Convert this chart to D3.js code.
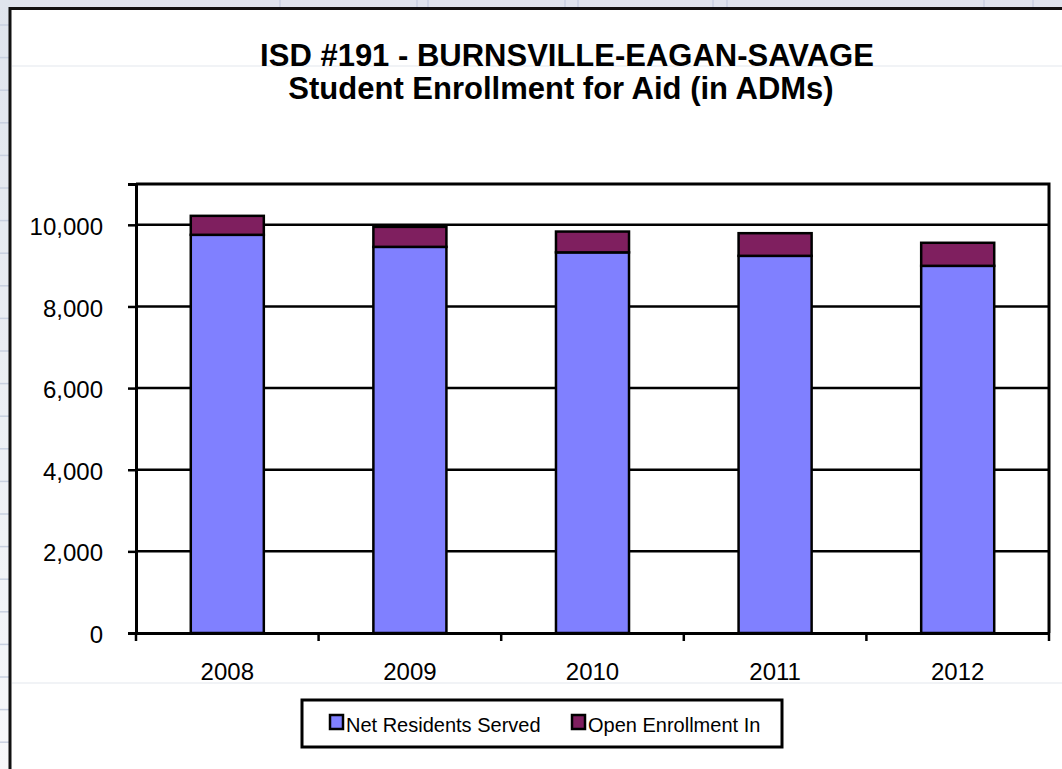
<!DOCTYPE html>
<html>
<head>
<meta charset="utf-8">
<script src="https://cdn.jsdelivr.net/npm/d3@7"></script>
<style>
	html, body { margin: 0; padding: 0; background: #ffffff; }
	svg { display: block; font-family: "Liberation Sans", Arial, sans-serif; }
</style>
</head>
<body>
<div id="chart"></div>
<script>
// values
const years = ["2008", "2009", "2010", "2011", "2012"];
const netResidents = [9755, 9460, 9325, 9240, 8995];
const openEnrollment = [465, 490, 510, 555, 565];
const yTicks = [0, 2000, 4000, 6000, 8000, 10000];
const yMax = 11000;
const seriesNames = ["Net Residents Served", "Open Enrollment In"];
const seriesColors = ["#8080ff", "#7f1f5f"];
const titleLines = ["ISD #191 - BURNSVILLE-EAGAN-SAVAGE", "Student Enrollment for Aid (in ADMs)"];

const width = 1062, height = 769;
const plot = { left: 136, top: 184, right: 1049, bottom: 633 };

const svg = d3.select("#chart").append("svg")
	.attr("width", width).attr("height", height);

// spreadsheet behind the chart
const grad = svg.append("defs").append("linearGradient")
	.attr("id", "sheet").attr("x1", 0).attr("y1", 0).attr("x2", 0).attr("y2", 1);
grad.append("stop").attr("offset", 0).attr("stop-color", "#dfe4ed");
grad.append("stop").attr("offset", 1).attr("stop-color", "#f7f8fa");
svg.append("rect").attr("width", width).attr("height", height).attr("fill", "url(#sheet)");

svg.append("g").selectAll("line")
	.data(d3.range(25, height, 32.6))
	.join("line")
	.attr("x1", 0).attr("x2", 10).attr("y1", d => d).attr("y2", d => d)
	.attr("stroke", "#c8d0e0").attr("stroke-width", 1.5);
svg.append("g").selectAll("line")
	.data([280, 417, 428, 565, 578, 713, 727, 984, 1033])
	.join("line")
	.attr("x1", d => d).attr("x2", d => d).attr("y1", 0).attr("y2", 8)
	.attr("stroke", "#c8d0e0").attr("stroke-width", 1.5);

// chart area
svg.append("rect")
	.attr("x", 10).attr("y", 8.5).attr("width", width + 10).attr("height", height + 10)
	.attr("fill", "#ffffff").attr("stroke", "#111").attr("stroke-width", 3);

svg.append("g").selectAll("line")
	.data([66, 683])
	.join("line")
	.attr("x1", 12).attr("x2", width).attr("y1", d => d).attr("y2", d => d)
	.attr("stroke", "#e3e7ee").attr("stroke-width", 1.2);

// title
svg.append("text")
	.attr("y", 66)
	.attr("text-anchor", "middle")
	.attr("font-size", 31).attr("font-weight", "bold")
	.selectAll("tspan")
	.data(titleLines)
	.join("tspan")
	.attr("x", (d, i) => i ? 561 : 567).attr("dy", (d, i) => i ? 33 : 0)
	.text(d => d);

// scales
const x = d3.scaleBand().domain(years)
	.range([plot.left, plot.right]).paddingInner(0.6).paddingOuter(0.3);
const y = d3.scaleLinear().domain([0, yMax]).range([plot.bottom, plot.top]);

// gridlines and plot frame
svg.append("g").selectAll("line")
	.data(yTicks.filter(d => d > 0))
	.join("line")
	.attr("x1", plot.left).attr("x2", plot.right)
	.attr("y1", d => y(d)).attr("y2", d => y(d))
	.attr("stroke", "#000").attr("stroke-width", 2.5);
svg.append("path")
	.attr("d", "M" + plot.left + "," + y(yMax) + "H" + plot.right + "V" + plot.bottom)
	.attr("fill", "none").attr("stroke", "#000").attr("stroke-width", 3);

// stacked bars
const rows = years.map((yr, i) => ({ year: yr, net: netResidents[i], open: openEnrollment[i] }));
const stack = d3.stack().keys(["net", "open"])(rows);

svg.append("g").selectAll("g")
	.data(stack)
	.join("g")
	.attr("fill", (d, i) => seriesColors[i])
	.selectAll("rect")
	.data(d => d)
	.join("rect")
	.attr("x", d => x(d.data.year))
	.attr("width", x.bandwidth())
	.attr("y", d => y(d[1]))
	.attr("height", d => y(d[0]) - y(d[1]))
	.attr("stroke", "#000").attr("stroke-width", 2.5);

// y axis
const yAxis = svg.append("g")
	.attr("transform", "translate(" + plot.left + ",0)")
	.call(d3.axisLeft(y).tickValues(yTicks).tickFormat(d3.format(",")).tickSize(8).tickPadding(25));
yAxis.select(".domain").attr("stroke", "#000").attr("stroke-width", 3);
yAxis.selectAll(".tick line").attr("stroke", "#000").attr("stroke-width", 2.5);
yAxis.selectAll("text").attr("font-size", 24).attr("fill", "#000").attr("dy", "0.4em")
	.attr("font-family", "Liberation Sans, Arial, sans-serif");

// x axis: labels in the bands, ticks on the boundaries
const xAxis = svg.append("g")
	.attr("transform", "translate(0," + plot.bottom + ")")
	.call(d3.axisBottom(x).tickSize(0).tickPadding(30));
xAxis.select(".domain").attr("stroke", "#000").attr("stroke-width", 3);
xAxis.selectAll("text").attr("font-size", 24).attr("fill", "#000")
	.attr("font-family", "Liberation Sans, Arial, sans-serif");

const half = (x.step() - x.bandwidth()) / 2;
const bounds = years.map(d => x(d) - half).concat([plot.right]);
svg.append("g").selectAll("line")
	.data(bounds)
	.join("line")
	.attr("x1", d => d).attr("x2", d => d)
	.attr("y1", plot.bottom).attr("y2", plot.bottom + 8)
	.attr("stroke", "#000").attr("stroke-width", 2.5);

// legend
const legend = svg.append("g").attr("transform", "translate(302,700)");
legend.append("rect")
	.attr("width", 480).attr("height", 47)
	.attr("fill", "#fff").attr("stroke", "#000").attr("stroke-width", 3);

const items = legend.selectAll("g.item")
	.data(seriesNames)
	.join("g")
	.attr("class", "item")
	.attr("transform", (d, i) => "translate(" + (i ? 270 : 28) + ",15)");
items.append("rect")
	.attr("width", 13).attr("height", 14)
	.attr("fill", (d, i) => seriesColors[i])
	.attr("stroke", "#000").attr("stroke-width", 2.5);
items.append("text")
	.attr("x", 16).attr("y", 16.5)
	.attr("font-size", 20)
	.text(d => d);
</script>
</body>
</html>
